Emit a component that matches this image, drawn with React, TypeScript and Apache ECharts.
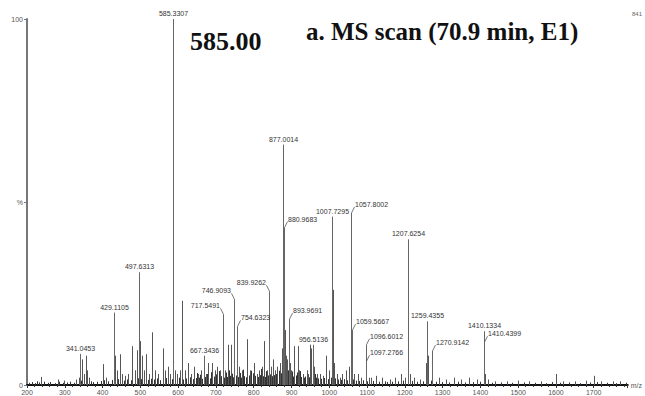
import React, { useEffect, useRef } from "react";
import * as echarts from "echarts";

// Labelled peaks (m/z, relative intensity %)
const labeledMz = [341.0453, 429.1105, 497.6313, 585.3307, 667.3436, 717.5491, 746.9093, 754.6323, 839.9262, 877.0014, 880.9683, 893.9691, 956.5136, 1007.7295, 1057.8002, 1059.5667, 1096.6012, 1097.2766, 1207.6254, 1259.4355, 1270.9142, 1410.1334, 1410.4399];
const labeledInt = [8.5, 19.8, 30.8, 100, 8, 19.3, 23.4, 16, 25.6, 65.7, 43, 18, 11, 46, 47, 15, 11, 6.5, 39.8, 17.4, 9.3, 14.7, 11.7];
// which side the label is put on (-1 left, 0 centred, 1 right)
const labelSide = [0, 0, 0, 0, 0, -1, -1, 1, -1, 0, 1, 1, 0, 0, 1, 1, 1, 1, 0, 0, 1, 0, 1];

// Unlabelled peaks
const peakMz = [238, 281, 299, 330, 338, 345, 350, 355, 360, 365, 400, 410, 432, 437, 445, 452, 460, 468, 479, 485, 490, 498.6, 505, 510, 516, 524, 532, 540, 548, 559, 565, 572, 579, 586.3, 592, 598, 605, 611, 618, 627, 635, 643, 652, 660, 675, 680, 690, 697, 704, 710, 718.5, 725, 733, 740, 748, 755.6, 762, 770, 783, 790, 800, 808, 815, 822, 828, 834, 840.9, 845, 850, 856, 863, 870, 875, 878, 879, 882, 885, 889, 895, 900, 908, 916, 920, 930, 940, 945, 950, 953, 960, 968, 975, 983, 992, 1000, 1008.7, 1009.7, 1012, 1020, 1028, 1035, 1045, 1052, 1058.8, 1065, 1075, 1085, 1097.6, 1104, 1110, 1125, 1140, 1160, 1175, 1190, 1200, 1208.6, 1215, 1225, 1240, 1257, 1260.4, 1262, 1272, 1290, 1310, 1330, 1350, 1370, 1390, 1411, 1420, 1440, 1470, 1500, 1530, 1560, 1600, 1620, 1650, 1680, 1700, 1720, 1750, 1770];
const peakInt = [2.2, 1.5, 1.2, 1.5, 2, 7, 3, 8, 4, 2, 5.7, 2, 8, 4, 8.4, 3, 2.5, 3, 10.6, 4, 9.5, 12, 8, 4, 8.4, 3, 14.4, 4, 3, 10, 4, 5, 3, 12, 4, 3, 4, 23, 4, 6, 3, 5, 3, 4, 3, 6, 6, 4, 5, 4, 8, 4, 11, 11, 9, 6, 5, 4, 12.5, 4, 6, 3, 4, 5, 12, 4, 8, 5, 7, 4, 5, 6, 10, 20, 38, 15, 8, 7, 6, 4, 10.6, 10.6, 4, 3, 4, 3, 11, 10, 5, 3, 3, 2.5, 8, 4, 26, 15, 6, 3, 2, 3, 4, 5, 10, 3, 3, 2, 4, 2, 2, 2.5, 2, 1.5, 2, 3, 2, 6, 3, 2, 1.5, 6, 8, 3, 3, 2, 1.5, 2, 1.5, 2, 1.5, 3, 1.5, 1, 1, 1.2, 1, 1, 3, 1, 1, 1.2, 2.5, 1, 1, 1];

// Low-level chemical noise
const noiseMz = [205, 212, 221, 227, 233, 244, 256, 262, 274, 286, 294, 305, 314, 324, 342, 369, 376, 385, 395, 405, 415, 425, 442, 456, 464, 474, 494, 502, 520, 528, 536, 544, 553, 568, 583, 596, 601, 614, 622, 631, 639, 647, 656, 664, 671, 685, 694, 701, 714, 722, 729, 737, 744, 752, 759, 766, 774, 779, 787, 794, 804, 811, 818, 825, 831, 837, 843, 848, 853, 859, 866, 872, 887, 892, 898, 904, 912, 925, 934, 937, 947, 957, 964, 971, 979, 987, 996, 1004, 1016, 1024, 1032, 1040, 1048, 1062, 1070, 1080, 1090, 1100, 1117, 1132, 1148, 1153, 1167, 1182, 1196, 1220, 1232, 1247, 1268, 1282, 1298, 1318, 1340, 1360, 1380, 1400, 1430, 1455, 1485, 1515, 1545, 1575, 1590, 1610, 1635, 1665, 1690, 1710, 1735, 1760, 1785, 609, 617, 626, 633, 651, 659, 668, 677, 688, 699, 707, 712, 727, 735, 742, 757, 764, 772, 781, 792, 797, 802, 813, 820, 833, 846, 851, 861, 868, 884, 891, 902, 914, 922, 942, 961];
const noiseInt = [0.6, 0.8, 0.5, 1.0, 0.7, 0.9, 0.6, 0.8, 0.5, 0.9, 0.6, 0.7, 0.9, 0.6, 1.2, 1.0, 0.8, 0.9, 1.1, 1.3, 1.0, 1.4, 1.6, 1.2, 1.5, 1.3, 1.8, 1.6, 1.4, 1.7, 1.5, 1.8, 1.3, 1.9, 1.6, 1.7, 2.0, 1.5, 1.8, 2.1, 1.6, 1.9, 2.0, 1.7, 2.2, 1.8, 2.3, 1.9, 2.4, 2.0, 2.2, 2.5, 2.1, 2.6, 2.2, 2.0, 2.4, 2.1, 2.6, 2.3, 2.5, 2.2, 2.7, 2.4, 2.2, 2.6, 2.9, 2.4, 2.7, 3.0, 2.6, 3.2, 2.8, 2.5, 2.7, 2.3, 2.6, 2.2, 2.0, 2.3, 2.1, 2.4, 2.0, 1.8, 1.7, 1.9, 1.6, 2.0, 1.8, 1.5, 1.4, 1.6, 1.3, 1.5, 1.2, 1.1, 1.3, 1.0, 1.1, 0.9, 1.0, 0.8, 0.9, 1.0, 1.2, 1.1, 0.9, 1.0, 1.2, 0.9, 0.8, 0.7, 0.9, 0.7, 0.8, 0.9, 0.6, 0.7, 0.6, 0.7, 0.6, 0.5, 0.8, 0.6, 0.7, 0.5, 0.7, 0.8, 0.6, 0.5, 0.6, 3.1, 2.7, 3.4, 2.9, 3.3, 2.8, 3.6, 3.0, 3.5, 2.9, 3.8, 3.2, 3.4, 4.0, 3.1, 3.7, 3.3, 4.2, 3.5, 3.9, 3.2, 4.1, 3.6, 4.4, 3.8, 4.3, 3.5, 4.6, 3.9, 4.8, 4.0, 3.7, 3.4, 3.8, 3.2, 3.0];

const xMin = 200;
const xMax = 1790;
const xInterval = 100;
const yTickLabels: Record<number, string> = { 0: "0", 50: "%", 100: "100" };

const title1 = "585.00";
const title2 = "a. MS scan (70.9 min, E1)";
const cornerText = "841";

export default function App() {
  const ref = useRef<HTMLDivElement>(null);
  useEffect(() => {
    document.body.style.margin = "0";
    const chart = echarts.init(ref.current!, null, { renderer: "svg" });

    const stickRender = (color: string) => (params: any, api: any) => {
      const x = api.value(0);
      const y = api.value(1);
      const top = api.coord([x, y]);
      const bot = api.coord([x, 0]);
      return {
        type: "line",
        shape: { x1: Math.round(top[0]) + 0.5, y1: top[1], x2: Math.round(bot[0]) + 0.5, y2: bot[1] },
        style: { stroke: color, lineWidth: 1 },
      };
    };

    const labelRender = (params: any, api: any) => {
      const x = api.value(0);
      const y = api.value(1);
      const side = api.value(2);
      const txt = labeledMz[params.dataIndex].toFixed(4);
      const p = api.coord([x, y]);
      const px = Math.round(p[0]) + 0.5;
      const children: any[] = [];
      if (side === 0) {
        children.push({
          type: "text",
          style: { text: txt, x: px, y: p[1] - 2, align: "center", verticalAlign: "bottom", fontSize: 7, fontFamily: "Liberation Sans, Arial", fill: "#333" },
        });
      } else {
        const lx = px + side * 3;
        const ly = p[1] - 6;
        children.push({ type: "line", shape: { x1: px, y1: p[1], x2: lx, y2: ly }, style: { stroke: "#555", lineWidth: 0.8 } });
        children.push({
          type: "text",
          style: { text: txt, x: lx + side * 0.5, y: ly + 1, align: side > 0 ? "left" : "right", verticalAlign: "bottom", fontSize: 7, fontFamily: "Liberation Sans, Arial", fill: "#333" },
        });
      }
      return { type: "group", children };
    };

    chart.setOption({
      animation: false,
      grid: { left: 27, right: 15, top: 19, bottom: 10 },
      xAxis: {
        type: "value",
        min: xMin,
        max: xMax,
        interval: xInterval,
        name: "m/z",
        nameLocation: "end",
        nameGap: 3,
        nameTextStyle: { fontSize: 7, color: "#555", fontFamily: "Liberation Sans, Arial", verticalAlign: "middle" },
        axisLine: { lineStyle: { color: "#111", width: 2 } },
        axisTick: { show: true, length: 3, lineStyle: { color: "#333" } },
        minorTick: { show: true, splitNumber: 5, length: 2, lineStyle: { color: "#333" } },
        axisLabel: {
          fontSize: 7,
          color: "#555",
          margin: 4,
          fontFamily: "Liberation Sans, Arial",
          showMaxLabel: false,
          formatter: (v: number) => (v % 100 === 0 ? String(v) : ""),
        },
        splitLine: { show: false },
      },
      yAxis: {
        type: "value",
        min: 0,
        max: 100,
        interval: 50,
        axisLine: { show: true, lineStyle: { color: "#777", width: 2 } },
        axisTick: { show: true, length: 3, lineStyle: { color: "#777" } },
        axisLabel: {
          fontSize: 7,
          color: "#555",
          margin: 4,
          fontFamily: "Liberation Sans, Arial",
          formatter: (v: number) => yTickLabels[v] ?? "",
        },
        splitLine: { show: false },
      },
      graphic: [
        { type: "text", left: 190, top: 28, style: { text: title1, font: "bold 26px 'Liberation Serif', 'Times New Roman', serif", fill: "#111" } },
        { type: "text", left: 306, top: 19, style: { text: title2, font: "bold 25px 'Liberation Serif', 'Times New Roman', serif", fill: "#111" } },
        { type: "text", left: 632, top: 11, style: { text: cornerText, font: "6px 'Liberation Sans', Arial", fill: "#666" } },
      ],
      series: [
        {
          type: "custom",
          renderItem: stickRender("#333"),
          data: noiseMz.map((m, i) => [m, noiseInt[i]]),
          encode: { x: 0, y: 1 },
          silent: true,
        },
        {
          type: "custom",
          renderItem: stickRender("#555"),
          data: peakMz.map((m, i) => [m, peakInt[i]]),
          encode: { x: 0, y: 1 },
          silent: true,
        },
        {
          type: "custom",
          renderItem: stickRender("#666"),
          data: labeledMz.map((m, i) => [m, labeledInt[i]]),
          encode: { x: 0, y: 1 },
          silent: true,
        },
        {
          type: "custom",
          renderItem: labelRender,
          data: labeledMz.map((m, i) => [m, labeledInt[i], labelSide[i]]),
          encode: { x: 0, y: 1 },
          silent: true,
        },
      ],
    });
    return () => chart.dispose();
  }, []);
  return <div ref={ref} style={{ width: 645, height: 396 }} />;
}
